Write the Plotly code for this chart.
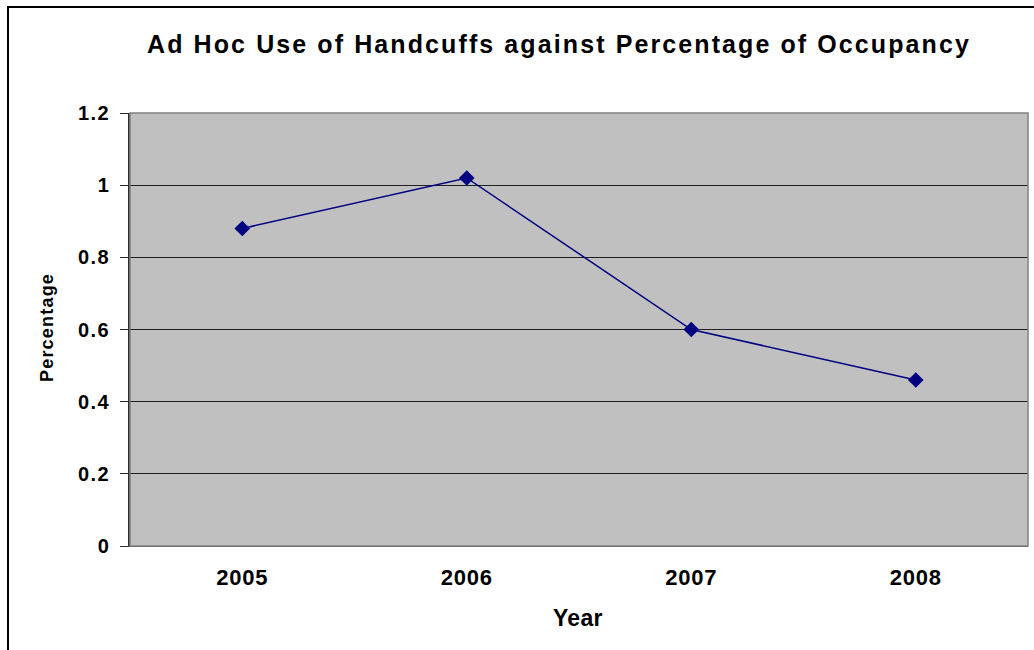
import plotly.graph_objects as go

years = ["2005", "2006", "2007", "2008"]
percentage = [0.88, 1.02, 0.60, 0.46]
y_ticks = [0, 0.2, 0.4, 0.6, 0.8, 1.0, 1.2]
y_tick_text = ["0", "0.2", "0.4", "0.6", "0.8", "1", "1.2"]

W, H = 1034, 650
L, R, T, B = 130, 6, 113, 104
PW, PH = W - L - R, H - T - B

font_family = "Liberation Sans, Arial, sans-serif"


def spaced(text, px):
    """Bold text with extra letter spacing."""
    return f'<span style="letter-spacing:{px}px"><b>{text}</b></span>'


def px_x(x):
    return (x - L) / PW


def px_y(y):
    return 1 - (y - T) / PH


fig = go.Figure()
fig.add_trace(go.Scatter(
    x=years, y=percentage, mode="lines+markers",
    line=dict(color="#000080", width=1.5),
    marker=dict(symbol="diamond", size=12, color="#000080"),
    showlegend=False, hoverinfo="x+y",
))

fig.update_layout(
    width=W, height=H,
    margin=dict(l=L, r=R, t=T, b=B, pad=0),
    paper_bgcolor="white",
    plot_bgcolor="#C0C0C0",
    font=dict(family=font_family, color="black"),
    xaxis=dict(
        type="category", range=[-0.5, 3.5],
        tickvals=years, ticktext=[spaced(y, 0.8) for y in years],
        showgrid=False, zeroline=False,
        showline=True, linecolor="#404040", linewidth=1,
        ticks="", tickfont=dict(size=22, family=font_family),
        ticklabelstandoff=12,
    ),
    yaxis=dict(
        range=[0, 1.2], tickvals=y_ticks,
        ticktext=[spaced(t, 1.5) for t in y_tick_text],
        showgrid=True, gridcolor="#202020", gridwidth=1,
        zeroline=False,
        showline=True, linecolor="#303030", linewidth=1.5,
        ticks="outside", ticklen=8, tickcolor="#303030",
        tickfont=dict(size=20, family=font_family),
        ticklabelstandoff=6,
    ),
    shapes=[
        # plot-area frame
        dict(type="rect", xref="paper", yref="paper", x0=0, x1=1, y0=0, y1=1,
             line=dict(color="#808080", width=1.5), layer="above"),
        # outer chart border
        dict(type="rect", xref="paper", yref="paper",
             x0=px_x(8), x1=px_x(W + 10), y0=px_y(H + 20), y1=px_y(7),
             line=dict(color="black", width=2)),
    ],
    annotations=[
        dict(text=spaced("Ad Hoc Use of Handcuffs against Percentage of Occupancy", 2.1),
             xref="paper", yref="paper", x=px_x(559), y=px_y(44),
             xanchor="center", yanchor="middle", showarrow=False,
             font=dict(size=25, family=font_family, color="black")),
        dict(text=spaced("Year", 0.3),
             xref="paper", yref="paper", x=px_x(578), y=px_y(618),
             xanchor="center", yanchor="middle", showarrow=False,
             font=dict(size=23, family=font_family, color="black")),
        dict(text=spaced("Percentage", 1.2),
             xref="paper", yref="paper", x=px_x(47), y=px_y(328),
             xanchor="center", yanchor="middle", showarrow=False, textangle=-90,
             font=dict(size=18, family=font_family, color="black")),
    ],
)

fig.write_html("out.html")
